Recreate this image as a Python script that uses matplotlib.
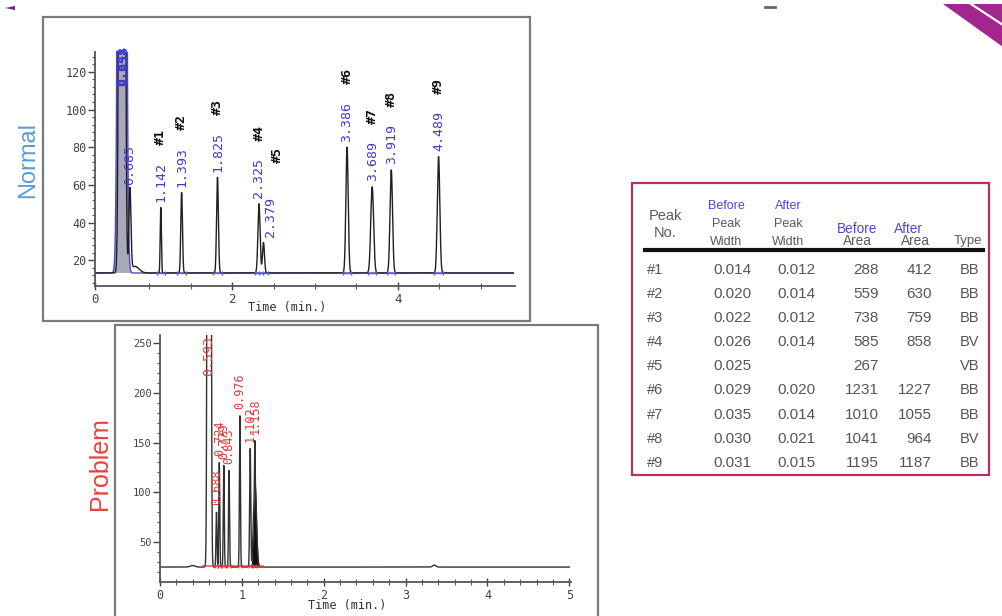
import numpy as np
import matplotlib
matplotlib.use("Agg")
import matplotlib.pyplot as plt
from matplotlib.patches import Rectangle, Polygon
from matplotlib.lines import Line2D

# ---------------- data ----------------
# Normal chromatogram (retention time in min, apex signal, label text)
normal_rt = [0.675, 0.77, 1.142, 1.393, 1.825, 2.325, 2.379, 3.386, 3.689, 3.919, 4.489]
normal_apex = [2000, 57, 48, 56, 64, 50, 29.5, 80, 59, 68, 75]
normal_sigma = [0.020, 0.012, 0.007, 0.010, 0.011, 0.013, 0.012, 0.014, 0.017, 0.015, 0.015]
normal_rt_labels = ["", "0.685", "1.142", "1.393", "1.825", "2.325", "2.379",
                    "3.386", "3.689", "3.919", "4.489"]
normal_peak_ids = ["", "", "#1", "#2", "#3", "#4", "#5", "#6", "#7", "#8", "#9"]
normal_solvent_labels = ["0.641", "0.658"]
normal_baseline = 13.3

# Problem chromatogram
problem_rt = [0.600, 0.690, 0.724, 0.779, 0.843, 0.976, 1.102, 1.158]
problem_apex = [5000, 80, 130, 127, 122, 177, 144, 152]
problem_sigma = [0.012, 0.006, 0.006, 0.006, 0.006, 0.006, 0.007, 0.007]
problem_labels = ["0.593", "0.688", "0.724", "0.779", "0.843", "0.976", "1.102", "1.158"]
problem_broad_rt = 1.16
problem_broad_apex = 112
problem_broad_sigma = 0.018
problem_baseline = 25

# Table
tbl_peak = ["#1", "#2", "#3", "#4", "#5", "#6", "#7", "#8", "#9"]
tbl_before_width = ["0.014", "0.020", "0.022", "0.026", "0.025", "0.029", "0.035", "0.030", "0.031"]
tbl_after_width = ["0.012", "0.014", "0.012", "0.014", "", "0.020", "0.014", "0.021", "0.015"]
tbl_before_area = ["288", "559", "738", "585", "267", "1231", "1010", "1041", "1195"]
tbl_after_area = ["412", "630", "759", "858", "", "1227", "1055", "964", "1187"]
tbl_type = ["BB", "BB", "BB", "BV", "VB", "BB", "BB", "BV", "BB"]

# ---------------- figure ----------------
W, H = 1003, 616
plt.rcParams["font.family"] = "DejaVu Sans Mono"
fig = plt.figure(figsize=(W / 100, H / 100), dpi=100)
fig.patch.set_facecolor("white")


def fx(x):
    return x / W


def fy(y):
    return 1 - y / H


def build(t, base, rts, apexes, sigmas):
    y = np.full_like(t, base, dtype=float)
    for r, a, s in zip(rts, apexes, sigmas):
        y += (a - base) * np.exp(-0.5 * ((t - r) / s) ** 2)
    return y


# frames
fig.patches.append(Rectangle((fx(43), fy(321)), (530 - 43) / W, (321 - 17) / H,
                             transform=fig.transFigure, fill=False,
                             edgecolor="#7a7a7a", lw=1.6))
fig.patches.append(Rectangle((fx(115), fy(640)), (598 - 115) / W, (640 - 325) / H,
                             transform=fig.transFigure, fill=False,
                             edgecolor="#7a7a7a", lw=1.6))

# decorations
fig.patches.append(Polygon([(fx(943), fy(4)), (fx(1003), fy(4)), (fx(1003), fy(47))],
                           closed=True, transform=fig.transFigure,
                           facecolor="#a2268e", edgecolor="none"))
fig.lines.append(Line2D([fx(971), fx(1003)], [fy(4), fy(25)], transform=fig.transFigure,
                        color="white", lw=1.6))
fig.patches.append(Polygon([(fx(5), fy(8)), (fx(15), fy(6)), (fx(15), fy(10))],
                           closed=True, transform=fig.transFigure,
                           facecolor="#5a2a6a", edgecolor="none"))
fig.lines.append(Line2D([fx(765), fx(775)], [fy(7), fy(7)], transform=fig.transFigure,
                        color="#666666", lw=2))

# ---------------- top chromatogram ----------------
ax1 = fig.add_axes([fx(95), fy(286), (515 - 95) / W, (286 - 52) / H])
x0, x1 = 0.349, 5.41
ax1.set_xlim(x0, x1)
ax1.set_ylim(6.4, 130.5)
t = np.linspace(x0, 5.39, 8000)
y_norm = build(t, normal_baseline, normal_rt, normal_apex, normal_sigma)
y_norm += 3.5 * np.exp(-0.5 * ((t - 0.83) / 0.05) ** 2)
y_blue = build(t, normal_baseline, normal_rt[:1], normal_apex[:1], [0.027])
ax1.fill_between(t, normal_baseline, y_blue, where=(t > 0.55) & (t < 0.80),
                 color="#a9a9bb", lw=0)
ax1.plot(t, y_blue, color="#4a4ad0", lw=1.0)
ax1.plot(t, y_norm, color="#202020", lw=1.0)

# blue baseline markers at peak feet
for r in normal_rt[2:]:
    ax1.plot([r - 0.05, r + 0.05], [normal_baseline, normal_baseline], color="#5a5ad8",
             lw=1.0, marker="|", markersize=3)

fs_lab = 9.5
adv = 0.602 * fs_lab
# per-label shifts (points) for the crowded #4/#5 pair
lab_dx = {6: 5}
id_dx = {6: 10}
id_dy = {6: 12}
for i, (r, a, lab, pid) in enumerate(zip(normal_rt, normal_apex, normal_rt_labels,
                                         normal_peak_ids)):
    if i == 0:
        continue
    ax1.annotate(lab, xy=(r, a), xytext=(lab_dx.get(i, 0), 4), textcoords="offset points",
                 rotation=90, ha="center", va="bottom", color="#3c3cc8",
                 fontsize=fs_lab, annotation_clip=False)
    if pid:
        ax1.annotate(pid, xy=(r, a),
                     xytext=(id_dx.get(i, 0), 4 + adv * (len(lab) + 2.2) + id_dy.get(i, 0)),
                     textcoords="offset points", rotation=90, ha="center",
                     va="bottom", color="#111111", fontsize=fs_lab,
                     fontweight="bold", annotation_clip=False)
for i, lab in enumerate(normal_solvent_labels):
    ax1.annotate(lab, xy=(normal_rt[0], 130.5), xytext=(i * 1.0, 4),
                 textcoords="offset points", rotation=90, ha="center", va="top",
                 color="#3a3ad0", fontsize=fs_lab, fontweight="bold",
                 annotation_clip=False)

for s in ["top", "right"]:
    ax1.spines[s].set_visible(False)
for s in ["left", "bottom"]:
    ax1.spines[s].set_color("#555555")
    ax1.spines[s].set_linewidth(1.3)
ax1.set_yticks([20, 40, 60, 80, 100, 120])
ax1.set_yticks(np.arange(8, 130, 4), minor=True)
ax1.set_xticks([x0, 2, 4])
ax1.set_xticklabels(["0", "2", "4"])
ax1.set_xticks(np.arange(1.0, 5.01, 0.5), minor=True)
ax1.tick_params(axis="y", which="major", direction="out", length=5, width=1,
                colors="#444444", labelsize=8.5, pad=1)
ax1.tick_params(axis="y", which="minor", direction="out", length=2.5, width=0.8,
                colors="#555555")
ax1.tick_params(axis="x", which="major", direction="inout", length=6, width=1,
                colors="#444444", labelsize=9, pad=2)
ax1.tick_params(axis="x", which="minor", direction="inout", length=4, width=0.8,
                colors="#555555")
ax1.patch.set_alpha(0)
fig.text(fx(287), fy(308), "Time (min.)", fontsize=8.5, color="#333333",
         ha="center", va="center")

# ---------------- bottom chromatogram ----------------
ax2 = fig.add_axes([fx(160), fy(582), (571 - 160) / W, (582 - 335) / H])
ax2.set_xlim(0, 5.02)
ax2.set_ylim(10, 258)
t2 = np.linspace(0, 5.0, 8000)
y_prob = build(t2, problem_baseline, problem_rt, problem_apex, problem_sigma)
broad = (problem_broad_apex - problem_baseline) * np.exp(
    -0.5 * ((t2 - problem_broad_rt) / problem_broad_sigma) ** 2)
y_prob = np.maximum(y_prob, problem_baseline + broad)
y_prob += 1.5 * np.exp(-0.5 * ((t2 - 0.40) / 0.03) ** 2)
y_prob += 2.0 * np.exp(-0.5 * ((t2 - 3.35) / 0.02) ** 2)
ax2.fill_between(t2, problem_baseline, problem_baseline + broad,
                 where=broad > 0.5, color="#111111", lw=0)
ax2.plot(t2, y_prob, color="#303030", lw=1.0)
ax2.plot([0.52, 1.26], [problem_baseline + 1.5] * 2, color="#e03a3a", lw=1.2,
         alpha=0.8)
for r in problem_rt[1:]:
    ax2.plot([r - 0.02, r + 0.02], [problem_baseline + 1.5] * 2, color="#e03a3a",
             lw=1, marker="|", markersize=3, alpha=0.8)

ax2.annotate(problem_labels[0], xy=(problem_rt[0], 257), xytext=(0, 0),
             textcoords="offset points", rotation=90, ha="center", va="top",
             color="#e03a3a", fontsize=fs_lab, annotation_clip=False)
for r, a, lab in zip(problem_rt[1:], problem_apex[1:], problem_labels[1:]):
    ax2.annotate(lab, xy=(r, a), xytext=(0, 5), textcoords="offset points",
                 rotation=90, ha="center", va="bottom", color="#e03a3a",
                 fontsize=8.5, annotation_clip=False)

for s in ["top", "right"]:
    ax2.spines[s].set_visible(False)
for s in ["left", "bottom"]:
    ax2.spines[s].set_color("#555555")
    ax2.spines[s].set_linewidth(1.3)
ax2.set_yticks([50, 100, 150, 200, 250])
ax2.set_yticks(np.arange(20, 258, 10), minor=True)
ax2.set_xticks([0, 1, 2, 3, 4, 5])
ax2.set_xticks(np.arange(0, 5.01, 0.2), minor=True)
ax2.tick_params(axis="y", which="major", direction="out", length=5, width=1,
                colors="#444444", labelsize=7.5, pad=1)
ax2.tick_params(axis="y", which="minor", direction="out", length=2.5, width=0.8,
                colors="#555555")
ax2.tick_params(axis="x", which="major", direction="inout", length=6, width=1,
                colors="#444444", labelsize=8.5, pad=2)
ax2.tick_params(axis="x", which="minor", direction="inout", length=4, width=0.8,
                colors="#555555")
ax2.patch.set_alpha(0)
fig.text(fx(347), fy(605), "Time (min.)", fontsize=8.5, color="#333333",
         ha="center", va="center")

# side titles
fig.text(fx(28), fy(160), "Normal", rotation=90, color="#5b9bd5", fontsize=17,
         family="Liberation Sans", ha="center", va="center")
fig.text(fx(100), fy(464), "Problem", rotation=90, color="#e8413c", fontsize=18,
         family="Liberation Sans", ha="center", va="center")

# ---------------- table ----------------
fig.patches.append(Rectangle((fx(632), fy(475)), (989 - 632) / W, (475 - 183) / H,
                             transform=fig.transFigure, fill=False,
                             edgecolor="#b5305f", lw=1.6))
fig.lines.append(Line2D([fx(645), fx(983)], [fy(250), fy(250)],
                        transform=fig.transFigure, color="#111111", lw=3))

hdr_gray = "#5a5a5a"
hdr_blue = "#4848d8"
tf = "Liberation Sans"


def ht(x, y, s, c, size=8.8, ha="center"):
    fig.text(fx(x), fy(y), s, color=c, fontsize=size, family=tf, ha=ha, va="center")


ht(665, 216, "Peak", hdr_gray, 10.5)
ht(665, 233, "No.", hdr_gray, 10.5)
ht(726, 206, "Before", hdr_blue, 9)
ht(726, 224, "Peak", hdr_gray, 9)
ht(726, 242, "Width", hdr_gray, 9)
ht(788, 206, "After", hdr_blue, 9)
ht(788, 224, "Peak", hdr_gray, 9)
ht(788, 242, "Width", hdr_gray, 9)
ht(857, 229, "Before", hdr_blue, 9.8)
ht(857, 241, "Area", hdr_gray, 9.8)
ht(908, 229, "After", hdr_blue, 9.8)
ht(915, 241, "Area", hdr_gray, 9.8)
ht(968, 241, "Type", hdr_gray, 9.5)

row_y0, row_dy = 270, 24.1
body_c = "#555555"
for i in range(len(tbl_peak)):
    yy = row_y0 + i * row_dy
    ht(647, yy, tbl_peak[i], body_c, 10.5, ha="left")
    ht(732, yy, tbl_before_width[i], body_c, 11)
    ht(796, yy, tbl_after_width[i], body_c, 11)
    ht(879, yy, tbl_before_area[i], body_c, 11, ha="right")
    ht(932, yy, tbl_after_area[i], body_c, 11, ha="right")
    ht(970, yy, tbl_type[i], body_c, 10.5)

fig.savefig("out.png", dpi=100)
